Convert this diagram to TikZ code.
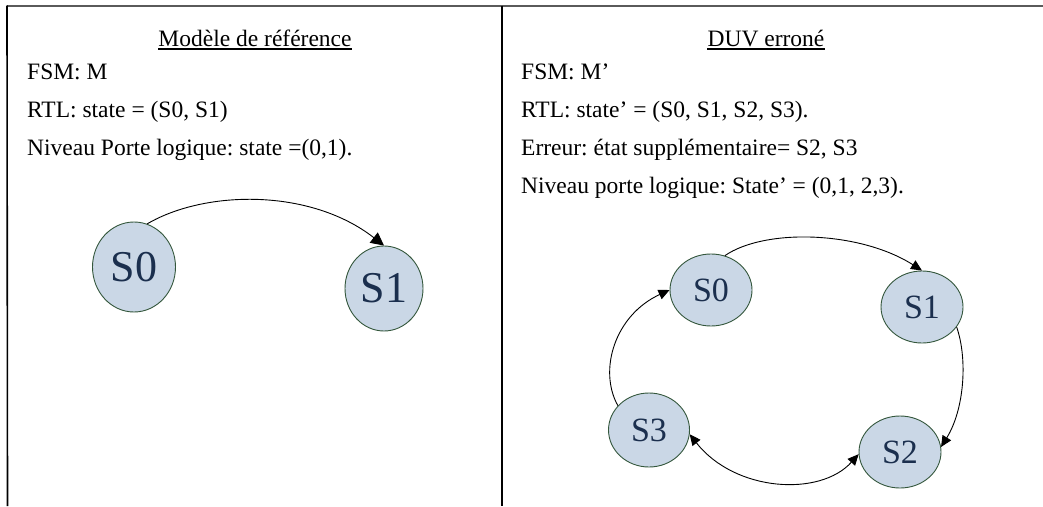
\documentclass[tikz,border=0pt]{standalone}
\usepackage{fontspec}
\setmainfont{Liberation Serif}
\usetikzlibrary{shapes.geometric,arrows.meta}
\definecolor{nodefill}{HTML}{CAD7E6}
\definecolor{nodeline}{HTML}{34573C}
\definecolor{nodetext}{HTML}{1B2F4E}
\definecolor{framegray}{HTML}{5A5A5A}
\begin{document}
\begin{tikzpicture}[x=1pt,y=-1pt,
  bodytext/.style={anchor=base west, inner sep=0pt, font=\fontsize{23.5}{28}\selectfont\frenchspacing},
  paneltitle/.style={anchor=base, inner sep=0pt, font=\fontsize{23.5}{28}\selectfont\frenchspacing},
  bigstate/.style={ellipse, draw=nodeline, fill=nodefill, line width=0.9pt, inner sep=0pt, text=nodetext, font=\fontsize{44}{44}\selectfont},
  smallstate/.style={ellipse, draw=nodeline, fill=nodefill, line width=0.9pt, inner sep=0pt, text=nodetext, font=\fontsize{34}{34}\selectfont},
  bigtrans/.style={line width=0.9pt, -{Triangle[length=13pt,width=13pt]}},
  trans/.style={line width=0.9pt, -{Triangle[length=11pt,width=10pt]}},
  bothtrans/.style={line width=0.9pt, {Triangle[length=11pt,width=10pt]}-{Triangle[length=11pt,width=10pt]}},
  underl/.style={line width=1.3pt},
]
\useasboundingbox (0,0) rectangle (1043,506);
% frame
\coordinate (tl) at (7,5.5);
\coordinate (tr) at (1043,5.5);
\coordinate (bl) at (7.5,506);
\coordinate (tm) at (501.7,5.5);
\coordinate (bm) at (501.7,506);
\draw[framegray, line width=2pt] (tl) -- (tr);
\draw[line width=1.6pt] (tl) -- (bl);
\draw[line width=1.6pt] (tm) -- (bm);

% left panel text
\node[paneltitle] (ltitle) at (255,46) {Modèle de référence};
\draw[underl] ([yshift=-3pt]ltitle.base west) -- ([yshift=-3pt]ltitle.base east);
\node[bodytext] (lfsm) at (27,79) {FSM: M};
\node[bodytext] (lrtl) at (27,117) {RTL: state = (S0, S1)};
\node[bodytext] (lgate) at (27,155) {Niveau Porte logique: state =(0,1).};

% left states
\node[bigstate, minimum width=83pt, minimum height=90pt] (l0) at (134,267) {S0};
\node[bigstate, minimum width=78pt, minimum height=85pt] (l1) at (384,288.5) {S1};
\draw[bigtrans] (l0.73) .. controls (205,190) and (310,188) .. (l1.north);

% right panel text
\node[paneltitle] (rtitle) at (766,46) {DUV erroné};
\draw[underl] ([yshift=-3pt]rtitle.base west) -- ([yshift=-3pt]rtitle.base east);
\node[bodytext] (rfsm) at (521,79) {FSM: M’};
\node[bodytext] (rrtl) at (521,117) {RTL: state’ = (S0, S1, S2, S3).};
\node[bodytext] (rerr) at (521,155) {Erreur: état supplémentaire= S2, S3};
\node[bodytext] (rgate) at (521,193) {Niveau porte logique: State’ = (0,1, 2,3).};

% right states
\node[smallstate, minimum width=82pt, minimum height=72pt] (r0) at (711,290) {S0};
\node[smallstate, minimum width=82pt, minimum height=72pt] (r1) at (922,307) {S1};
\node[smallstate, minimum width=81pt, minimum height=74pt] (r3) at (649,430) {S3};
\node[smallstate, minimum width=82pt, minimum height=72pt] (r2) at (900,452) {S2};

\draw[trans] (r0.68) .. controls (765,228) and (860,231) .. (r1.north);
\draw[trans] (r1.-30) .. controls (968,360) and (964,410) .. (r2.7);
\draw[bothtrans] (r3.-6) .. controls (735,492) and (820,497) .. (r2.183);
\draw[trans] (r3.142) .. controls (598,370) and (615,315) .. (r0.west);
\end{tikzpicture}
\end{document}
